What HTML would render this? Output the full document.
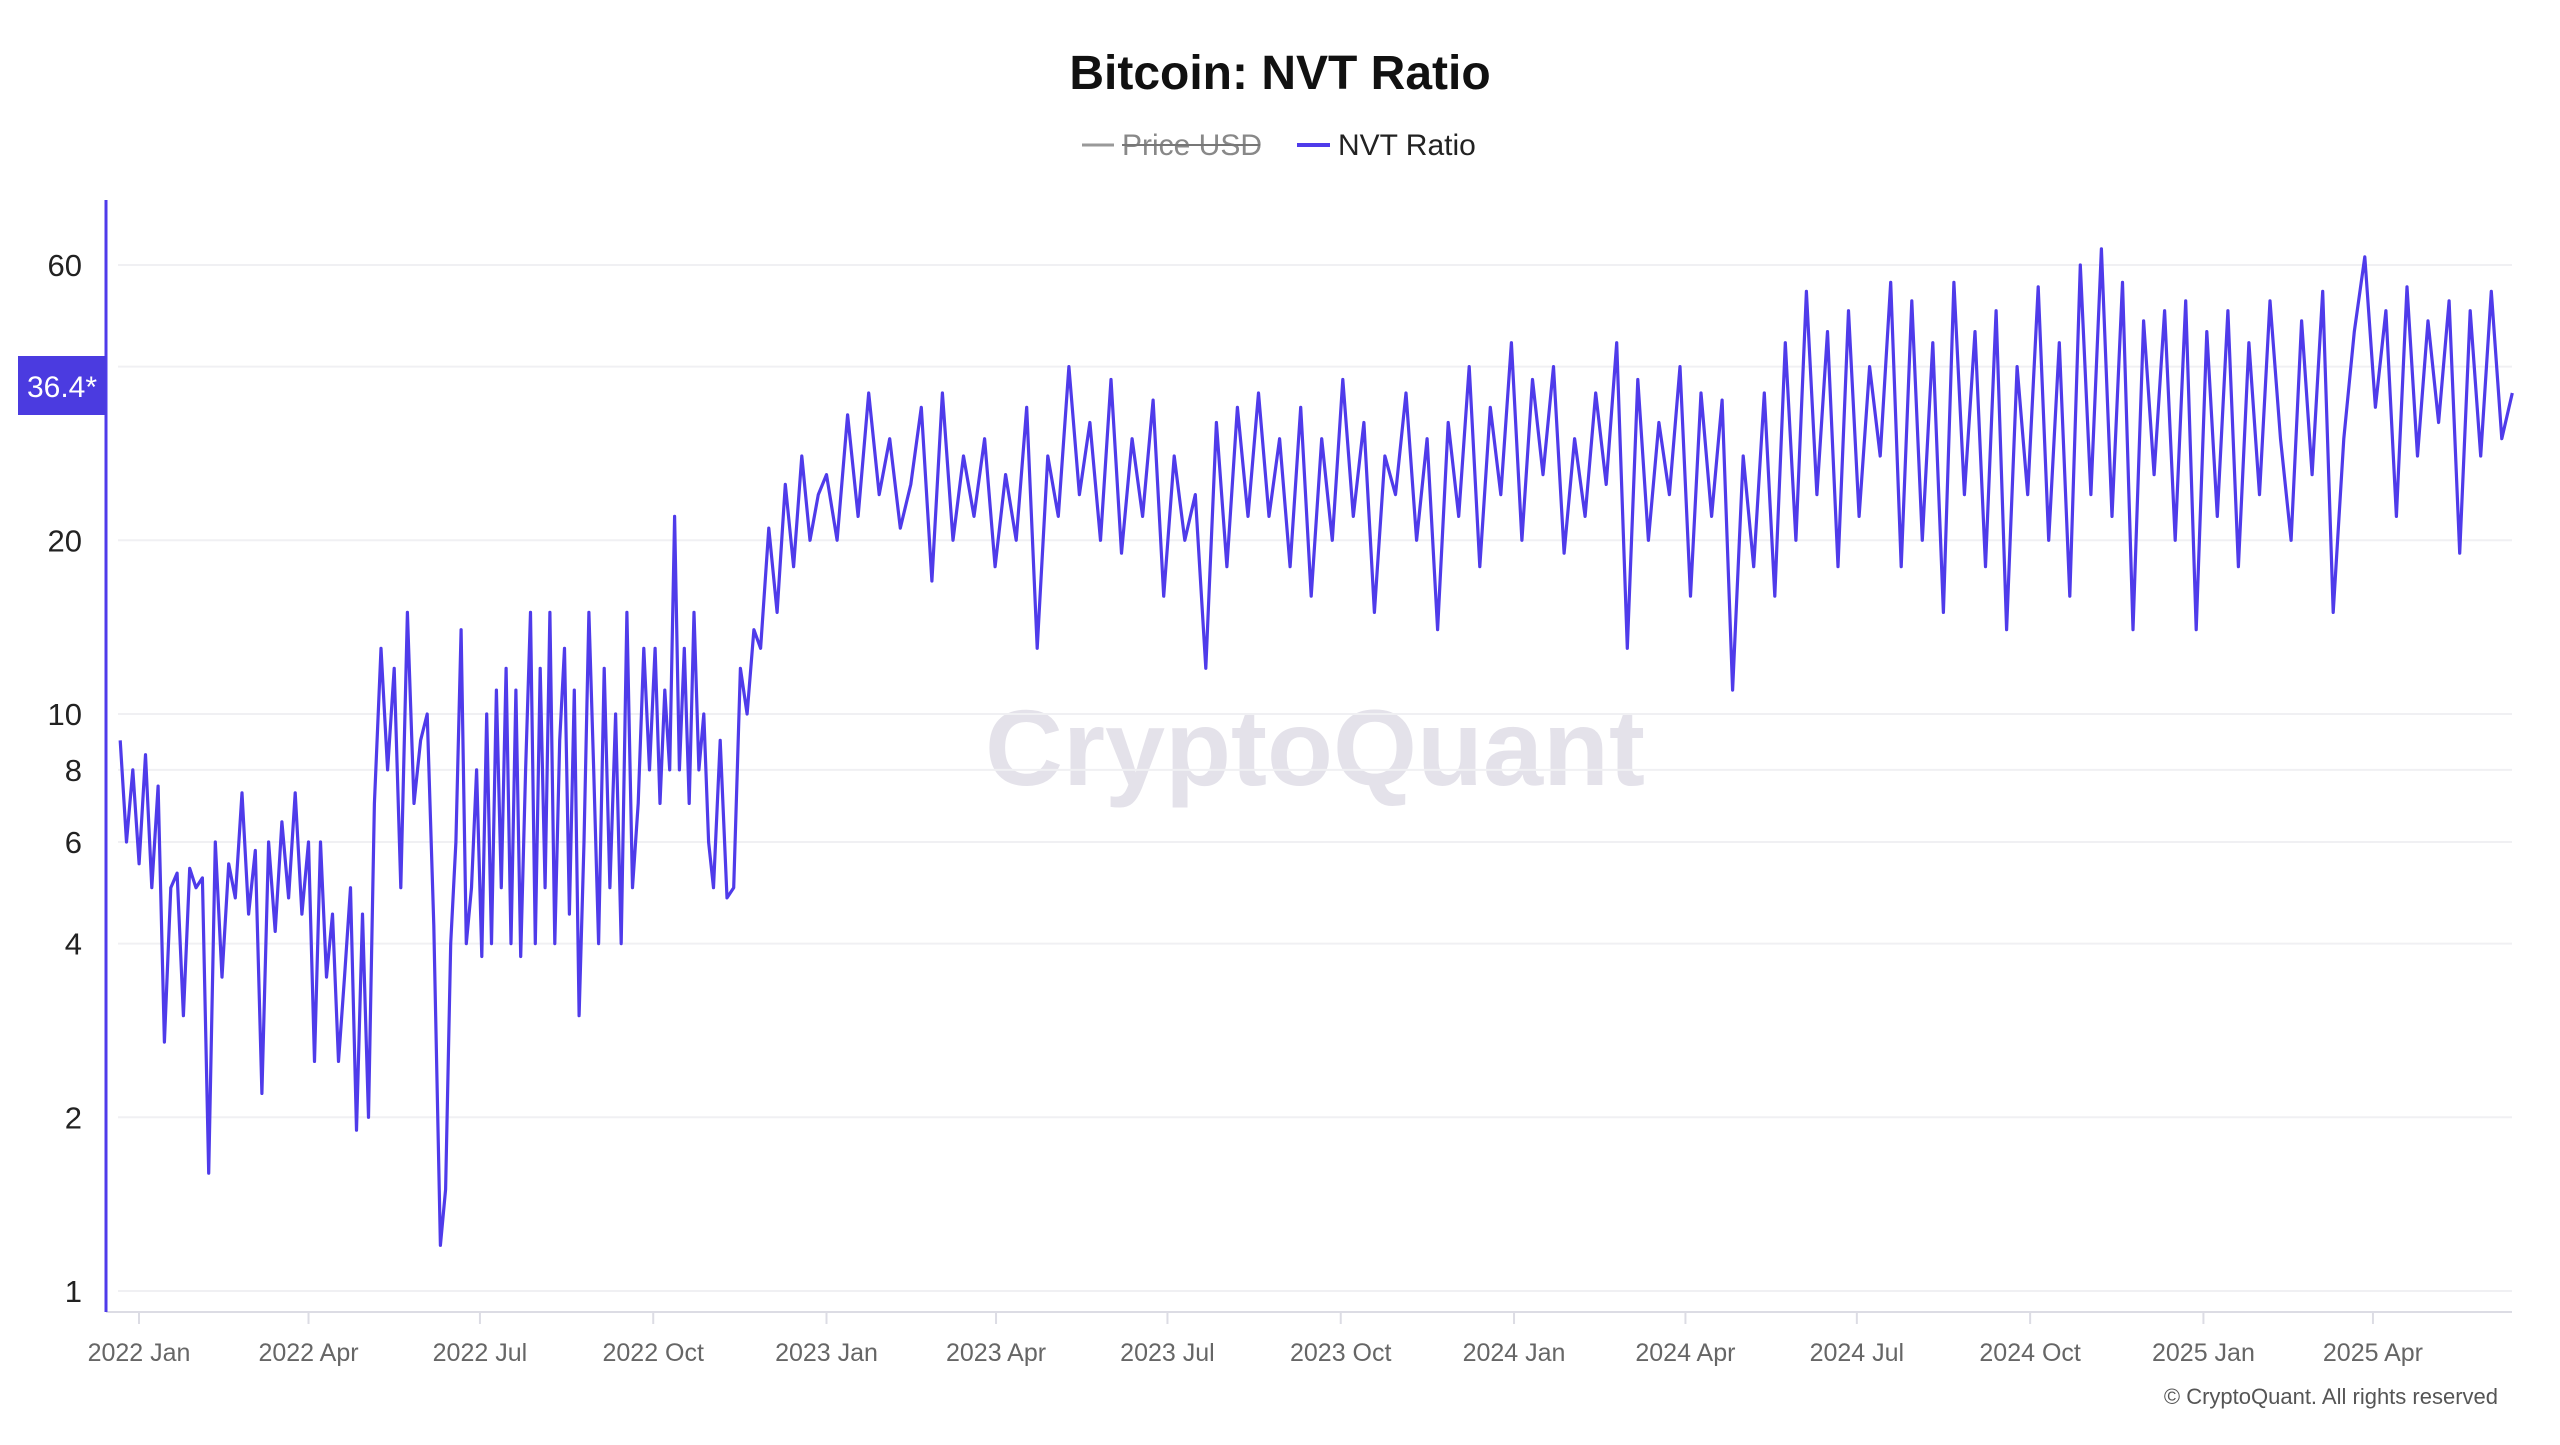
<!DOCTYPE html>
<html><head><meta charset="utf-8"><style>
html,body{margin:0;padding:0;background:#fff;}
body{width:2560px;height:1440px;overflow:hidden;font-family:"Liberation Sans",sans-serif;}
</style></head><body>
<svg id="chart" width="2560" height="1440" viewBox="0 0 2560 1440" xmlns="http://www.w3.org/2000/svg">
<text x="1280" y="89" text-anchor="middle" font-family="Liberation Sans, sans-serif" font-weight="bold" font-size="48" fill="#111">Bitcoin: NVT Ratio</text>
<g>
<line x1="1082" y1="145" x2="1114" y2="145" stroke="#999" stroke-width="3"/>
<text x="1122" y="155" font-size="30" fill="#888">Price USD</text>
<line x1="1122" y1="145" x2="1260" y2="145" stroke="#777" stroke-width="2"/>
</g>
<g>
<line x1="1297" y1="145" x2="1330" y2="145" stroke="#4f3bea" stroke-width="4"/>
<text x="1338" y="155" font-size="30" fill="#222">NVT Ratio</text>
</g>
<text x="1315" y="785" text-anchor="middle" font-size="108" font-weight="bold" fill="#e4e2ea">CryptoQuant</text>
<g id="grid"></g>
<g id="yticks"></g>
<g id="xticks"></g>
<line x1="106" y1="1312" x2="2512" y2="1312" stroke="#dcdce4" stroke-width="2"/>
<path id="series" fill="none" stroke="#4f3bea" stroke-width="3.2" stroke-linejoin="round"/>
<line x1="106" y1="200" x2="106" y2="1312" stroke="#4f3bea" stroke-width="3"/>
<g>
<rect x="18" y="356" width="88" height="59" fill="#4b3be0"/>
<text x="62" y="397" text-anchor="middle" font-size="30" fill="#fff">36.4*</text>
</g>
<text x="2498" y="1404" text-anchor="end" font-size="22" fill="#555">© CryptoQuant. All rights reserved</text>
</svg>
<script>
const yTickValues=[1,2,4,6,8,10,20,40,60];
const xTickLabels=["2022 Jan","2022 Apr","2022 Jul","2022 Oct","2023 Jan","2023 Apr","2023 Jul","2023 Oct","2024 Jan","2024 Apr","2024 Jul","2024 Oct","2025 Jan","2025 Apr"];
const xTickDays=[0,90,181,273,365,455,546,638,730,821,912,1004,1096,1186];
const segmentStartDays=[-10,37,90,125,160,182,213,244,274,305,330,365];
const seriesEndDay=1260;
const seg2022a=[9,6,8,5.5,8.5,5,7.5,2.7,5,5.3,3,5.4,5,5.2];
const seg2022b=[1.6,6,3.5,5.5,4.8,7.3,4.5,5.8,2.2,6,4.2,6.5,4.8,7.3,4.5];
const seg2022c=[6,2.5,6,3.5,4.5,2.5,3.5,5,1.9,4.5,2];
const seg2022d=[7,13,8,12,5,15,7,9,10,4.3];
const seg2022e=[1.2,1.5,4,6,14,4,5,8];
const seg2022f=[3.8,10,4,11,5,12,4,11,3.8,8,15,4];
const seg2022g=[12,5,15,4,9,13,4.5,11,3,6,15,8];
const seg2022h=[4,12,5,10,4,15,5,7,13,8];
const seg2022i=[13,7,11,8,22,8,13,7,15,8,10,6];
const seg2022j=[5,9,4.8,5,12,10,14];
const seg2022k=[13,21,15,25,18,28,20,24];
const seg2023on=[
26,20,33,22,36,24,30,21,
25,34,17,36,20,28,22,30,18,26,20,
34,13,28,22,40,24,32,20,38,19,
30,22,35,16,28,20,24,12,32,18,34,22,
36,22,30,18,34,16,30,20,38,22,32,15,28,24,36,20,30,14,
32,22,40,18,34,24,44,20,38,26,40,19,30,22,36,
25,44,13,38,20,32,24,40,16,36,22,35,11,28,18,
36,16,44,20,54,24,46,18,50,22,40,28,56,18,
52,20,44,15,56,24,46,18,50,14,40,24,55,20,
44,16,60,24,64,22,56,14,48,26,50,20,52,
14,46,22,50,18,44,24,52,30,20,48,26,54,15,
30,46,62,34,50,22,55,28,48,32,52,19,50,28,54,30,36
];
const segments=[seg2022a,seg2022b,seg2022c,seg2022d,seg2022e,seg2022f,seg2022g,seg2022h,seg2022i,seg2022j,seg2022k,seg2023on];
const X0=139, PXD=1.8836, Y1=1291, DEC=577;
function xScale(day){return X0+day*PXD;}
function yScale(v){return Y1-Math.log10(v)*DEC;}
const NS="http://www.w3.org/2000/svg";
const grid=document.getElementById('grid'), yt=document.getElementById('yticks'), xt=document.getElementById('xticks');
yTickValues.forEach(v=>{
  const y=yScale(v);
  const l=document.createElementNS(NS,'line');
  
  
  l.setAttribute('x1',118);l.setAttribute('x2',2512);l.setAttribute('y1',y);l.setAttribute('y2',y);
  l.setAttribute('stroke','#f0f0f3');l.setAttribute('stroke-width',2);
  grid.appendChild(l);
  const t=document.createElementNS(NS,'text');
  
  
  t.setAttribute('x',82);t.setAttribute('y',y+11);t.setAttribute('text-anchor','end');
  t.setAttribute('font-size',31);t.setAttribute('fill','#222');
  t.textContent=v;
  yt.appendChild(t);
});
xTickLabels.forEach((lab,i)=>{
  const x=xScale(xTickDays[i]);
  const l=document.createElementNS(NS,'line');
  
  
  l.setAttribute('x1',x);l.setAttribute('x2',x);l.setAttribute('y1',1312);l.setAttribute('y2',1324);
  l.setAttribute('stroke','#dcdce4');l.setAttribute('stroke-width',2);
  xt.appendChild(l);
  const t=document.createElementNS(NS,'text');
  
  
  t.setAttribute('x',x);t.setAttribute('y',1361);t.setAttribute('text-anchor','middle');
  t.setAttribute('font-size',25);t.setAttribute('fill','#666');
  t.textContent=lab;
  xt.appendChild(t);
});
let d='', first=true;
segments.forEach((vals,s)=>{
  const start=segmentStartDays[s];
  const end=s+1<segments.length?segmentStartDays[s+1]:seriesEndDay;
  const last=s+1===segments.length;
  const step=(end-start)/(last?vals.length-1:vals.length);
  vals.forEach((v,i)=>{
    const x=xScale(start+i*step), y=yScale(v);
    d+=(first?'M':'L')+x.toFixed(1)+','+y.toFixed(1);
    first=false;
  });
});
document.getElementById('series').setAttribute('d',d);
</script>
</body></html>
